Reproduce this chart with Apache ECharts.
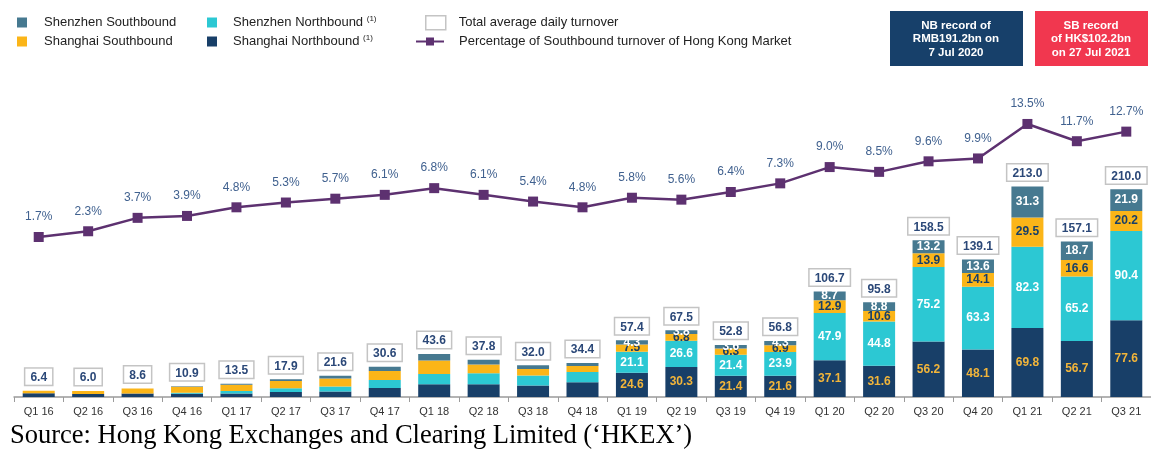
<!DOCTYPE html>
<html>
<head>
<meta charset="utf-8">
<script src="https://cdn.jsdelivr.net/npm/echarts@6/dist/echarts.min.js"></script>
<style>
  html, body { margin: 0; padding: 0; background: #fff; }
  #chart { width: 1151px; height: 450px; }
</style>
</head>
<body>
<div id="chart"></div>
<script>
// 季度
const categories = ['Q1 16', 'Q2 16', 'Q3 16', 'Q4 16', 'Q1 17', 'Q2 17', 'Q3 17', 'Q4 17',
  'Q1 18', 'Q2 18', 'Q3 18', 'Q4 18', 'Q1 19', 'Q2 19', 'Q3 19', 'Q4 19',
  'Q1 20', 'Q2 20', 'Q3 20', 'Q4 20', 'Q1 21', 'Q2 21', 'Q3 21'];
// stacked from bottom to top
const shanghaiNorth = [3.9, 3.0, 3.6, 3.4, 3.6, 5.0, 5.5, 9.0, 13.0, 13.0, 11.7, 14.8,
  24.6, 30.3, 21.4, 21.6, 37.1, 31.6, 56.2, 48.1, 69.8, 56.7, 77.6];
const shenzhenNorth = [0, 0, 0, 0.8, 2.4, 3.9, 5.1, 8.2, 10.2, 11.0, 10.0, 10.6,
  21.1, 26.6, 21.4, 23.9, 47.9, 44.8, 75.2, 63.3, 82.3, 65.2, 90.4];
const shanghaiSouth = [2.5, 3.0, 5.0, 6.2, 6.3, 7.2, 8.2, 9.0, 13.6, 9.0, 6.5, 5.9,
  7.5, 6.8, 6.3, 6.9, 12.9, 10.6, 13.9, 14.1, 29.5, 16.6, 20.2];
const shenzhenSouth = [0, 0, 0, 0.5, 1.2, 1.8, 2.8, 4.4, 6.8, 4.8, 3.8, 3.1,
  4.3, 3.8, 3.6, 4.3, 8.7, 8.8, 13.2, 13.6, 31.3, 18.7, 21.9];
const totals = [6.4, 6.0, 8.6, 10.9, 13.5, 17.9, 21.6, 30.6, 43.6, 37.8, 32.0, 34.4,
  57.4, 67.5, 52.8, 56.8, 106.7, 95.8, 158.5, 139.1, 213.0, 157.1, 210.0];
// 南向占港股成交额百分比
const southboundPct = [1.7, 2.3, 3.7, 3.9, 4.8, 5.3, 5.7, 6.1, 6.8, 6.1, 5.4, 4.8,
  5.8, 5.6, 6.4, 7.3, 9.0, 8.5, 9.6, 9.9, 13.5, 11.7, 12.7];

const FONT = '"Liberation Sans", Arial, sans-serif';
const NAVY = '#183f68';
const CYAN = '#2cc8d3';
const AMBER = '#fbb518';
const STEEL = '#467990';
const firstLabelled = 12; // labels only from Q1 19

function segLabel(color) {
  return {
    show: true,
    position: 'inside',
    color: color,
    fontFamily: FONT,
    fontSize: 12,
    fontWeight: 'bold',
    formatter: p => (p.dataIndex >= firstLabelled ? p.value.toFixed(1) : '')
  };
}

function stackSeries(name, data, color, labelColor) {
  return {
    name: name,
    type: 'bar',
    stack: 'turnover',
    barWidth: 32,
    barGap: '-100%',
    itemStyle: { color: color },
    label: segLabel(labelColor),
    emphasis: { disabled: true },
    data: data
  };
}

function legendText(gap) {
  return {
    fontFamily: FONT,
    fontSize: 13,
    lineHeight: 15,
    color: '#222',
    padding: [0, 0, 0, gap],
    rich: { s: { fontSize: 8, lineHeight: 15, fontFamily: FONT, color: '#222', padding: [0, 0, 7, 0] } }
  };
}
const supFormatter = name => (name.indexOf('Northbound') >= 0 ? name + ' {s|(1)}' : name);

const chart = echarts.init(document.getElementById('chart'), null, { renderer: 'canvas' });

const option = {
  animation: false,
  grid: { left: 14, right: -6, top: 50, bottom: 53 },
  legend: [
    {
      orient: 'vertical', left: 17, top: 15, padding: 0, itemGap: 4,
      icon: 'rect', itemWidth: 10, itemHeight: 10,
      textStyle: legendText(12), formatter: supFormatter,
      data: ['Shenzhen Southbound', 'Shanghai Southbound']
    },
    {
      orient: 'vertical', left: 207, top: 15, padding: 0, itemGap: 4,
      icon: 'rect', itemWidth: 10, itemHeight: 10,
      textStyle: legendText(11), formatter: supFormatter,
      data: ['Shenzhen Northbound', 'Shanghai Northbound']
    },
    {
      left: 425, top: 15, padding: 0,
      icon: 'rect', itemWidth: 20, itemHeight: 14,
      textStyle: legendText(8),
      data: [{ name: 'Total average daily turnover', itemStyle: { color: '#fff', borderColor: '#c4c4c4', borderWidth: 1.5 } }]
    },
    {
      left: 415, top: 34, padding: 0,
      itemWidth: 28, itemHeight: 10,
      textStyle: legendText(10),
      data: ['Percentage of Southbound turnover of Hong Kong Market']
    }
  ],
  xAxis: {
    type: 'category',
    data: categories,
    axisLine: { lineStyle: { color: '#9b9b9b', width: 1.5 } },
    axisTick: { show: true, length: 5, lineStyle: { color: '#9b9b9b' } },
    axisLabel: { fontFamily: FONT, fontSize: 11, color: '#333', margin: 9 }
  },
  yAxis: [
    { type: 'value', min: 0, max: 351, show: false, splitLine: { show: false } },
    { type: 'value', min: -15, max: 21.22, show: false, splitLine: { show: false } }
  ],
  series: [
    stackSeries('Shanghai Northbound', shanghaiNorth, NAVY, '#f2b53a'),
    stackSeries('Shenzhen Northbound', shenzhenNorth, CYAN, '#ffffff'),
    stackSeries('Shanghai Southbound', shanghaiSouth, AMBER, NAVY),
    stackSeries('Shenzhen Southbound', shenzhenSouth, STEEL, '#ffffff'),
    {
      name: 'Total average daily turnover',
      type: 'bar',
      barWidth: 32,
      barGap: '-100%',
      itemStyle: { color: 'rgba(0,0,0,0)' },
      emphasis: { disabled: true },
      label: {
        show: true,
        position: 'top',
        distance: 6,
        fontFamily: FONT,
        fontSize: 12,
        fontWeight: 'bold',
        color: '#2b4878',
        backgroundColor: '#fff',
        borderColor: '#c4c4c4',
        borderWidth: 1.5,
        padding: [3, 5, 1, 5],
        formatter: p => p.value.toFixed(1)
      },
      z: 1,
      data: totals
    },
    {
      name: 'Percentage of Southbound turnover of Hong Kong Market',
      type: 'line',
      yAxisIndex: 1,
      symbol: 'rect',
      symbolSize: 10,
      itemStyle: { color: '#5d3170' },
      lineStyle: { color: '#5d3170', width: 2.5 },
      label: {
        show: true,
        position: 'top',
        distance: 9,
        fontFamily: FONT,
        fontSize: 12,
        color: '#40618f',
        formatter: p => p.value.toFixed(1) + '%'
      },
      z: 5,
      data: southboundPct
    }
  ],
  graphic: [
    { type: 'rect', left: 890, top: 11, shape: { width: 133, height: 55 }, style: { fill: '#17406a' } },
    {
      type: 'text', x: 956, y: 39,
      style: {
        text: 'NB record of\nRMB191.2bn on\n7 Jul 2020', fill: '#fff', font: 'bold 11.5px ' + FONT,
        align: 'center', verticalAlign: 'middle', lineHeight: 13.5
      }
    },
    { type: 'rect', left: 1035, top: 11, shape: { width: 113, height: 55 }, style: { fill: '#f1374f' } },
    {
      type: 'text', x: 1091, y: 39,
      style: {
        text: 'SB record\nof HK$102.2bn\non 27 Jul 2021', fill: '#fff', font: 'bold 11.5px ' + FONT,
        align: 'center', verticalAlign: 'middle', lineHeight: 13.5
      }
    },
    {
      type: 'text', left: 10, top: 423,
      style: {
        text: 'Source: Hong Kong Exchanges and Clearing Limited (\u2018HKEX\u2019)',
        fill: '#000', font: '26.5px "Liberation Serif", "Times New Roman", serif'
      }
    }
  ]
};

chart.setOption(option);
</script>
</body>
</html>
